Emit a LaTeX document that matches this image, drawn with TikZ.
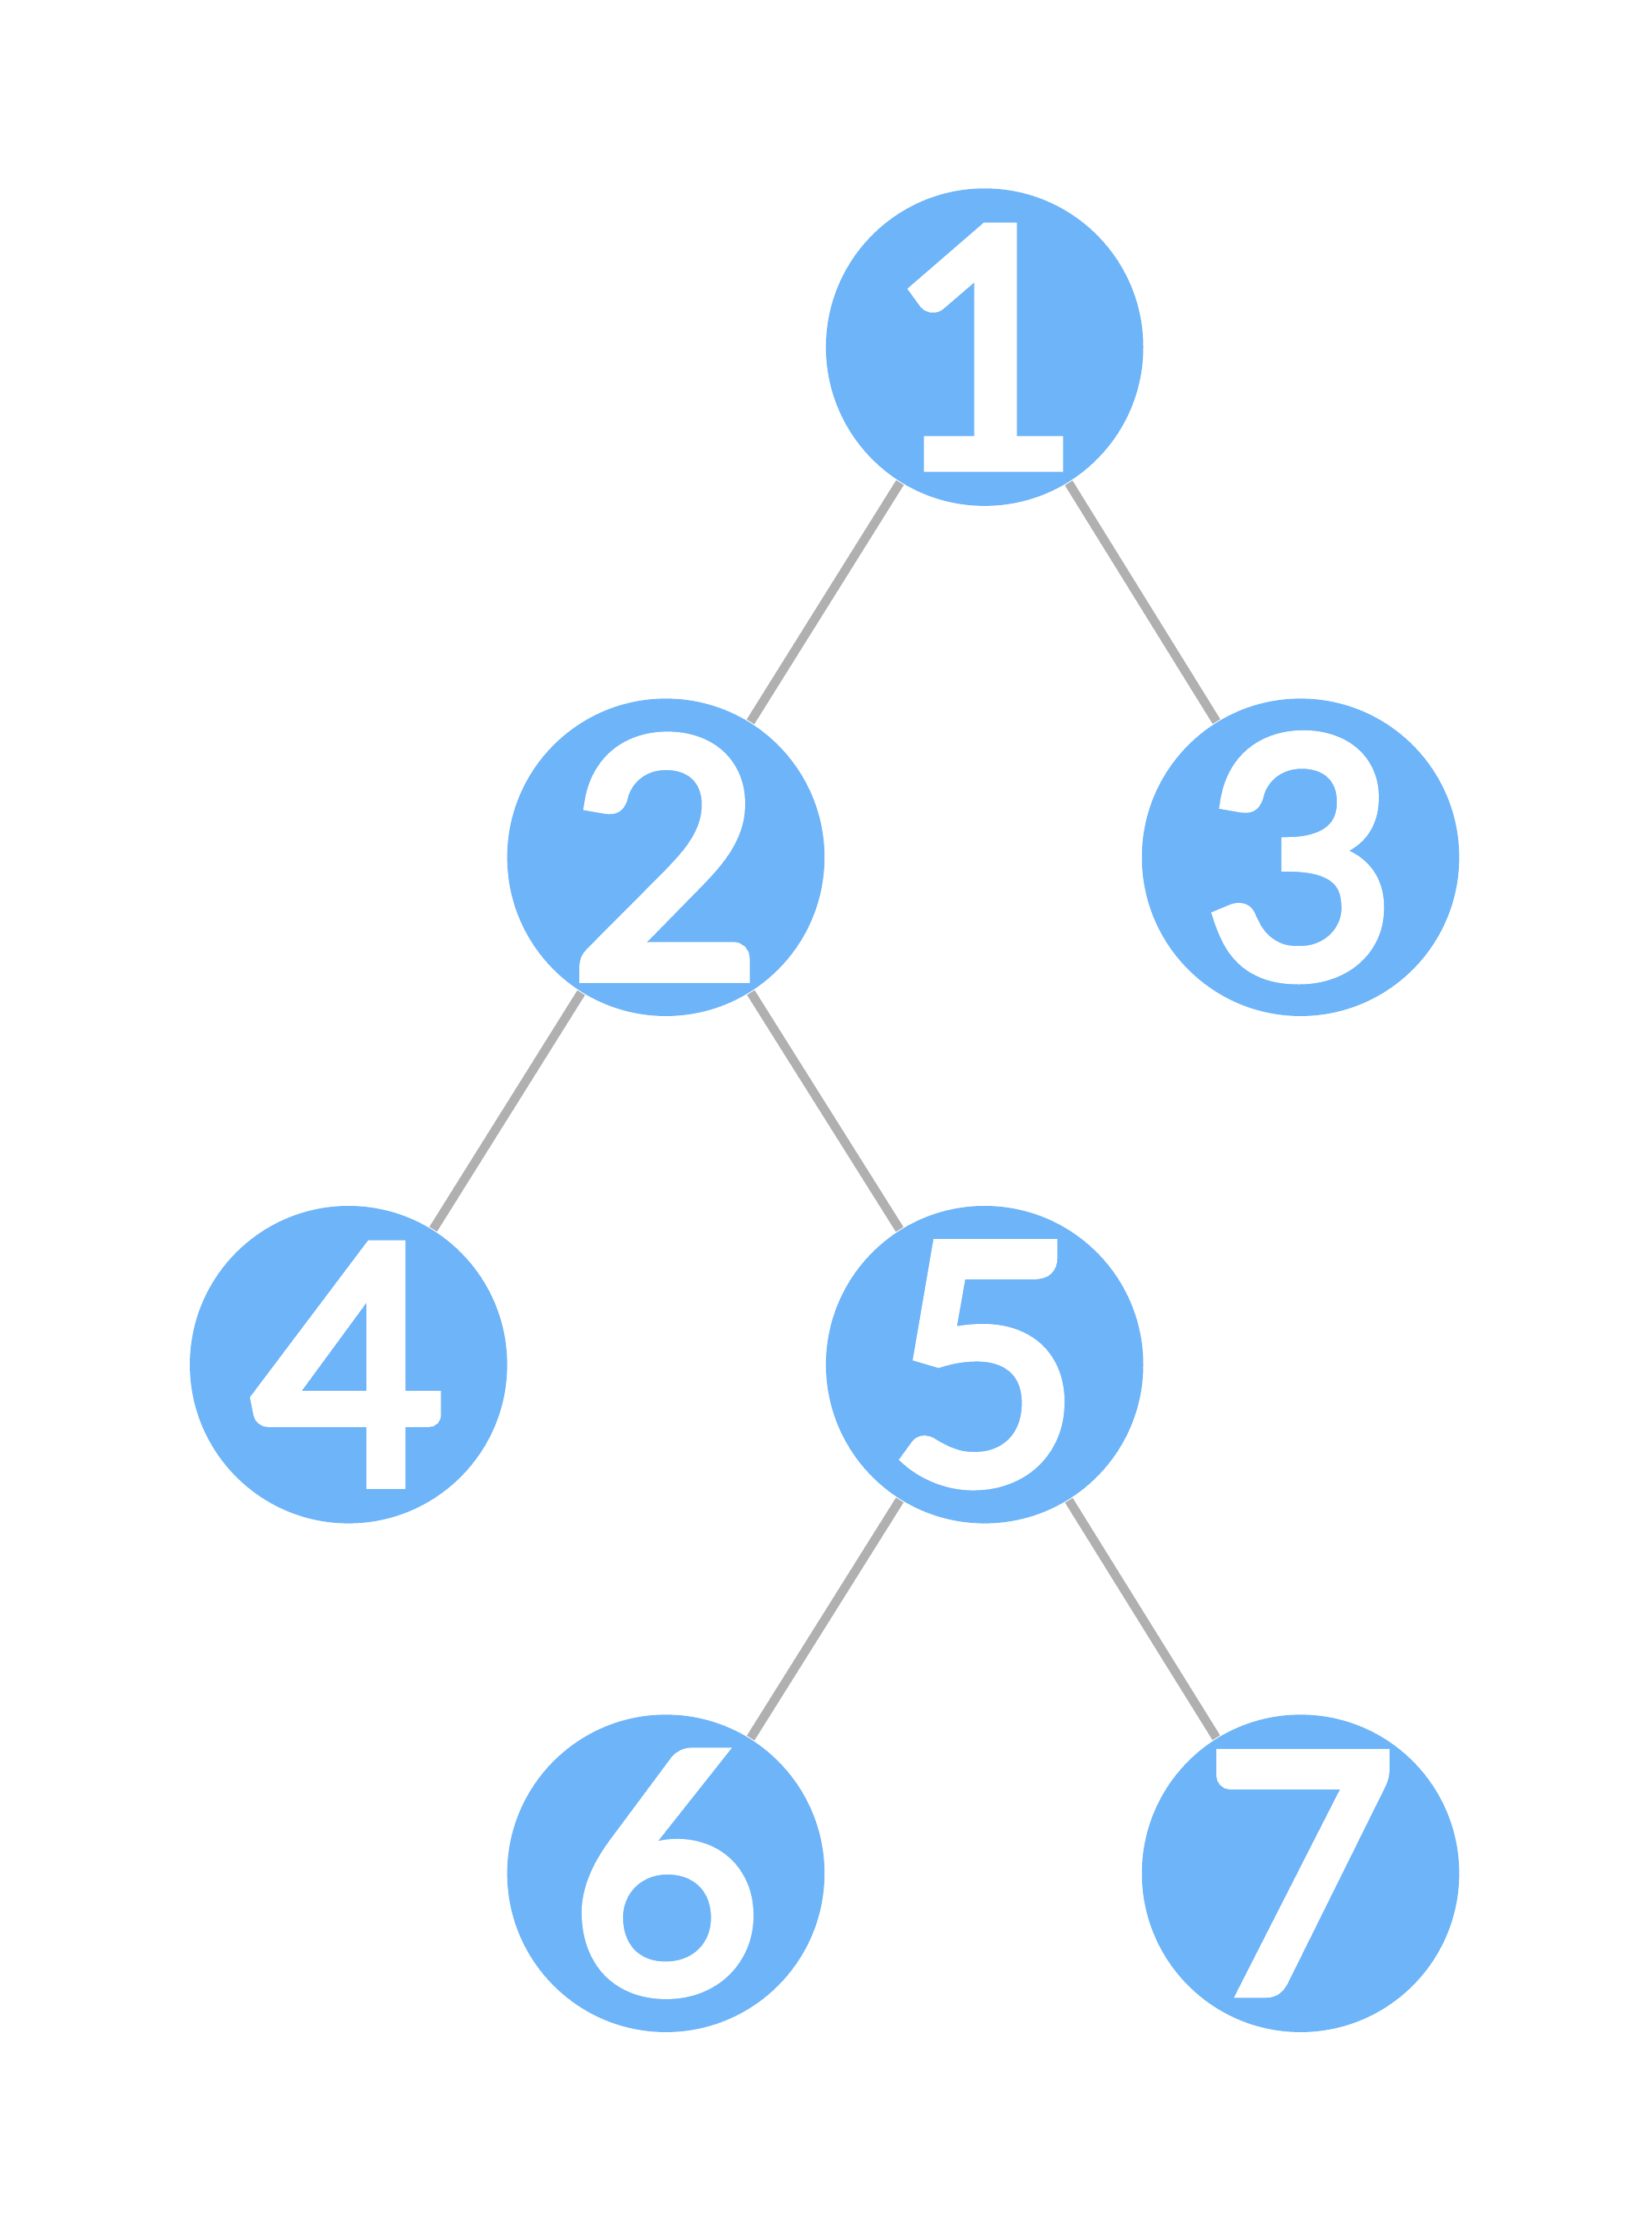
\documentclass[tikz,border=0pt]{standalone}
\usepackage{fontspec}
\setmainfont{Lato}[BoldFont=Lato, BoldFeatures={FakeBold=4}]
\definecolor{nodeblue}{HTML}{6DB4F9}
\definecolor{edgegray}{HTML}{B0B0B0}
\tikzset{
    vertex/.style={circle, fill=nodeblue, minimum size=2.24cm, inner sep=0pt,
        text=white, font=\fontsize{66}{66}\selectfont\bfseries},
    link/.style={draw=edgegray, line width=1.8pt}, % grey tree edges
}

\begin{document}
\begin{tikzpicture}
            \useasboundingbox (0,0) rectangle (11.66,15.68);
            \node[vertex] (N1) at (6.95,13.23) {1};
            \node[vertex] (N2) at (4.70,9.63) {2};
            \node[vertex] (N3) at (9.18,9.63) {3};
            \node[vertex] (N4) at (2.46,6.05) {4};
            \node[vertex] (N5) at (6.95,6.05) {5};
            \node[vertex] (N6) at (4.70,2.46) {6};
            \node[vertex] (N7) at (9.18,2.46) {7};

            \path[link] (N1) -- (N2)
            (N1) -- (N3)
            (N2) -- (N4)
            (N2) -- (N5)
            (N5) -- (N6)
            (N5) -- (N7);
        \end{tikzpicture}
\end{document}
